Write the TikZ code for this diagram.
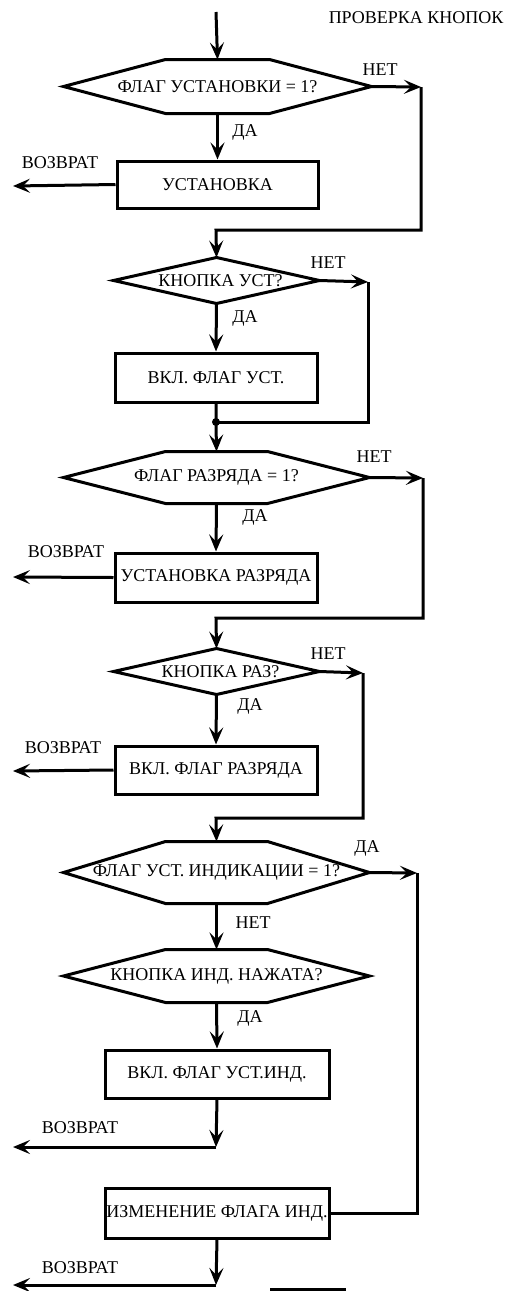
\documentclass[tikz,border=0pt]{standalone}
\usepackage{fontspec}
\setmainfont{Liberation Serif}
\usetikzlibrary{arrows.meta}

\newcommand\hexpath[1]{%
  \draw (#1.west) -- ([xshift=102pt]#1.north west) -- ([xshift=-102pt]#1.north east)
    -- (#1.east) -- ([xshift=-102pt]#1.south east) -- ([xshift=102pt]#1.south west) -- cycle;}
\newcommand\diapath[1]{%
  \draw (#1.west) -- (#1.north) -- (#1.east) -- (#1.south) -- cycle;}

\begin{document}
\begin{tikzpicture}[x=1pt, y=-1pt, line width=3pt,
  txt/.style={font=\fontsize{18}{18}\selectfont},
  lbl/.style={txt, inner sep=0pt},
  blk/.style={txt, draw, rectangle, inner sep=0pt, minimum width=202pt, minimum height=48pt},
  cond/.style={txt, rectangle, inner sep=0pt},
  flow/.style={-{Stealth[length=17pt, width=14pt, inset=7pt]}},
]
\useasboundingbox (0,0) rectangle (507,1291);

% title
\node[lbl, anchor=east] (title) at (505,18) {ПРОВЕРКА КНОПОК};

% decisions
\node[cond, minimum width=305pt, minimum height=51pt] (d1) at (217.5,86.5) {ФЛАГ УСТАНОВКИ = 1?};
\node[cond, minimum width=203pt, minimum height=43pt] (d2) at (216.5,280.5) {\hspace{8pt}КНОПКА УСТ?};
\node[cond, minimum width=303pt, minimum height=49pt] (d3) at (216.5,477.5) {ФЛАГ РАЗРЯДА = 1?};
\node[cond, minimum width=203pt, minimum height=43pt] (d4) at (216.5,671.5) {\hspace{8pt}КНОПКА РАЗ?};
\node[cond, minimum width=303pt, minimum height=59pt] (d5) at (216.5,872.5) {ФЛАГ УСТ. ИНДИКАЦИИ = 1?};
\node[cond, minimum width=303pt, minimum height=50pt] (d6) at (216.5,976) {КНОПКА ИНД. НАЖАТА?};
\hexpath{d1}
\diapath{d2}
\hexpath{d3}
\diapath{d4}
\hexpath{d5}
\hexpath{d6}

% actions
\node[blk, minimum width=201pt, minimum height=47pt] (b1) at (217.5,184.5) {УСТАНОВКА};
\node[blk, minimum height=49pt] (b2) at (216,377.5) {ВКЛ. ФЛАГ УСТ.};
\node[blk, minimum height=49pt] (b3) at (216,577.5) {УСТАНОВКА РАЗРЯДА};
\node[blk] (b4) at (216,770) {ВКЛ. ФЛАГ РАЗРЯДА};
\node[blk, minimum width=224pt] (b5) at (217,1074) {ВКЛ. ФЛАГ УСТ.ИНД.};
\node[blk, minimum width=224pt, minimum height=50pt] (b6) at (217,1213) {ИЗМЕНЕНИЕ ФЛАГА ИНД.};

% auxiliary points
\coordinate (start) at (216,12);
\coordinate (r1) at (421,87);
\coordinate (j1) at (216,230);
\coordinate (r2) at (368,282);
\coordinate (j2) at (216,422);
\coordinate (r3) at (423,478);
\coordinate (j3) at (216,618);
\coordinate (r4) at (363,673);
\coordinate (j4) at (216,818);
\coordinate (r5) at (417,873);
\coordinate (j5) at (216,1147);
\coordinate (j6) at (216,1285);
\coordinate (x1) at (13,186);
\coordinate (x3) at (13,577);
\coordinate (x4) at (13,771);
\coordinate (x5) at (13,1147);
\coordinate (x6) at (13,1285);
\coordinate (s1) at (270,1289);
\coordinate (s2) at (346,1289);

% connectors
\draw[flow] (start) -- (d1.north);
\draw[flow] (d1.east) -- (r1);
\draw[flow] (r1) |- (j1) -- (d2.north);
\draw[flow] (d1.south) -- (b1.north);
\draw[flow] (b1.west) -- (x1);

\draw[flow] (d2.east) -- (r2);
\draw (r2) |- (j2);
\draw[flow] (d2.south) -- (b2.north);
\draw[flow] (b2.south) -- (j2) -- (d3.north);
\fill (j2) circle (4pt);

\draw[flow] (d3.east) -- (r3);
\draw[flow] (r3) |- (j3) -- (d4.north);
\draw[flow] (d3.south) -- (b3.north);
\draw[flow] (b3.west) -- (x3);

\draw[flow] (d4.east) -- (r4);
\draw[flow] (r4) |- (j4) -- (d5.north);
\draw[flow] (d4.south) -- (b4.north);
\draw[flow] (b4.west) -- (x4);

\draw[flow] (d5.east) -- (r5);
\draw (r5) |- (b6.east);
\draw[flow] (d5.south) -- (d6.north);
\draw[flow] (d6.south) -- (b5.north);
\draw[flow] (b5.south) -- (j5);
\draw[flow] (j5) -- (x5);
\draw[flow] (b6.south) -- (j6);
\draw[flow] (j6) -- (x6);
\draw (s1) -- (s2);

% branch labels
\node[lbl] (n1) at (380,70) {НЕТ};
\node[lbl] (y1) at (245,132) {ДА};
\node[lbl] (v1) at (60,163) {ВОЗВРАТ};
\node[lbl] (n2) at (328,263) {НЕТ};
\node[lbl] (y2) at (245,318) {ДА};
\node[lbl] (n3) at (374,457) {НЕТ};
\node[lbl] (y3) at (255,517) {ДА};
\node[lbl] (v3) at (66,552) {ВОЗВРАТ};
\node[lbl] (n4) at (328,654) {НЕТ};
\node[lbl] (y4) at (250,706) {ДА};
\node[lbl] (v4) at (63,748) {ВОЗВРАТ};
\node[lbl] (y5) at (367,848) {ДА};
\node[lbl] (n5) at (253,923) {НЕТ};
\node[lbl] (y6) at (250,1018) {ДА};
\node[lbl] (v5) at (80,1128) {ВОЗВРАТ};
\node[lbl] (v6) at (80,1268) {ВОЗВРАТ};
\end{tikzpicture}
\end{document}
